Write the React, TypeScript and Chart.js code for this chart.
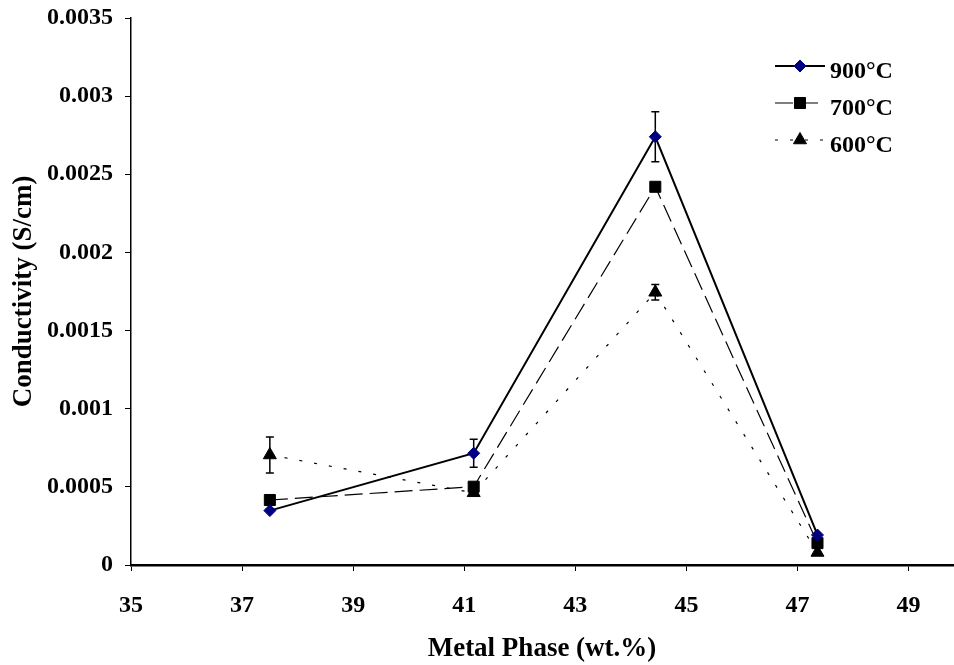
import React, { useEffect, useRef } from "react";
import { Chart, registerables, LinearScale } from "chart.js";

class FixedLinearScale extends (LinearScale as any) {
  static id = "fixedLinear";
  _calculatePadding() {
    this.paddingLeft = 0;
    this.paddingRight = 0;
    this.paddingTop = 0;
    this.paddingBottom = 0;
  }
}

Chart.register(...registerables, FixedLinearScale as any);

// ---- data ----
const metalPhase = [37.5, 41.17, 44.44, 47.36];
const series900 = [0.000348, 0.000715, 0.00274, 0.000192];
const series700 = [0.000416, 0.000501, 0.00242, 0.00014];
const series600 = [0.000704, 0.000462, 0.001745, 0.00008];
const err900 = [0, 0.00009, 0.00016, 0];
const err700 = [0, 0, 0, 0];
const err600 = [0.000115, 0, 0.00005, 0];
const seriesLabels = ["900°C", "700°C", "600°C"];
const xTickValues = [35, 37, 39, 41, 43, 45, 47, 49];
const yTickValues = [0, 0.0005, 0.001, 0.0015, 0.002, 0.0025, 0.003, 0.0035];
const yTickLabels = ["0", "0.0005", "0.001", "0.0015", "0.002", "0.0025", "0.003", "0.0035"];

const FONT = "'Liberation Serif', 'Times New Roman', serif";

const errorBarPlugin = {
  id: "errorBars",
  beforeDatasetsDraw(chart: any) {
    const { ctx, scales } = chart;
    const xs = scales.x;
    const ys = scales.y;
    ctx.save();
    ctx.strokeStyle = "#000";
    ctx.lineWidth = 1.5;
    chart.data.datasets.forEach((ds: any) => {
      const errs: number[] = ds.errors || [];
      ds.data.forEach((p: any, i: number) => {
        const e = errs[i];
        if (!e) return;
        const px = xs.getPixelForValue(p.x);
        const top = ys.getPixelForValue(p.y + e);
        const bot = ys.getPixelForValue(p.y - e);
        ctx.beginPath();
        ctx.moveTo(px, top);
        ctx.lineTo(px, bot);
        ctx.moveTo(px - 4, top);
        ctx.lineTo(px + 4, top);
        ctx.moveTo(px - 4, bot);
        ctx.lineTo(px + 4, bot);
        ctx.stroke();
      });
    });
    ctx.restore();
  },
};

function drawMarker(ctx: CanvasRenderingContext2D, style: string, r: number, x: number, y: number) {
  ctx.beginPath();
  if (style === "rectRot") {
    ctx.moveTo(x, y - r);
    ctx.lineTo(x + r, y);
    ctx.lineTo(x, y + r);
    ctx.lineTo(x - r, y);
  } else if (style === "rect") {
    const s = Math.SQRT1_2 * r;
    ctx.rect(x - s, y - s, 2 * s, 2 * s);
  } else {
    const w = (r * Math.sqrt(3)) / 2;
    ctx.moveTo(x, y - r);
    ctx.lineTo(x + w, y + r / 2);
    ctx.lineTo(x - w, y + r / 2);
  }
  ctx.closePath();
  ctx.fill();
  ctx.stroke();
}

const legendPlugin = {
  id: "customLegend",
  afterDraw(chart: any) {
    const { ctx, chartArea } = chart;
    const x0 = chartArea.right - 178;
    const x1 = x0 + 50;
    const rows = [66, 103, 140];
    ctx.save();
    chart.data.datasets.forEach((ds: any, i: number) => {
      const y = rows[i];
      ctx.beginPath();
      ctx.setLineDash(ds.borderDash || []);
      ctx.strokeStyle = ds.borderColor;
      ctx.lineWidth = ds.borderWidth;
      ctx.moveTo(x0, y);
      ctx.lineTo(x1, y);
      ctx.stroke();
      ctx.setLineDash([]);
      ctx.fillStyle = ds.pointBackgroundColor;
      ctx.strokeStyle = ds.pointBorderColor;
      ctx.lineWidth = 1;
      drawMarker(ctx, ds.pointStyle, ds.pointRadius, (x0 + x1) / 2, y);
      ctx.fillStyle = "#000";
      ctx.font = `bold 24px ${FONT}`;
      ctx.textBaseline = "middle";
      ctx.textAlign = "left";
      ctx.fillText(ds.label, x1 + 5, y + 6);
    });
    ctx.restore();
  },
};

function toPoints(vals: number[]) {
  return metalPhase.map((x, i) => ({ x, y: vals[i] }));
}

export default function App() {
  const ref = useRef<HTMLCanvasElement | null>(null);
  useEffect(() => {
    document.body.style.margin = "0";
    const canvas = ref.current!;
    const chart = new Chart(canvas, {
      type: "scatter",
      data: {
        datasets: [
          {
            label: seriesLabels[0],
            data: toPoints(series900),
            errors: err900,
            showLine: true,
            borderColor: "#000",
            borderWidth: 2,
            pointStyle: "rectRot",
            pointRadius: 6,
            pointBackgroundColor: "#000080",
            pointBorderColor: "#000080",
            pointBorderWidth: 1,
          } as any,
          {
            label: seriesLabels[1],
            data: toPoints(series700),
            errors: err700,
            showLine: true,
            borderColor: "#000",
            borderWidth: 1.2,
            borderDash: [18, 7],
            pointStyle: "rect",
            pointRadius: 7.8,
            pointBackgroundColor: "#000",
            pointBorderColor: "#000",
            pointBorderWidth: 1,
          } as any,
          {
            label: seriesLabels[2],
            data: toPoints(series600),
            errors: err600,
            showLine: true,
            borderColor: "#000",
            borderWidth: 1.2,
            borderDash: [3, 12],
            pointStyle: "triangle",
            pointRadius: 7.5,
            pointBackgroundColor: "#000",
            pointBorderColor: "#000",
            pointBorderWidth: 1,
          } as any,
        ],
      },
      options: {
        animation: false,
        responsive: false,
        maintainAspectRatio: false,
        layout: { autoPadding: false, padding: { top: 18, right: 1, left: 0, bottom: 0 } },
        plugins: {
          legend: { display: false },
          tooltip: { enabled: false },
        },
        elements: { line: { tension: 0 } },
        scales: {
          x: {
            type: "fixedLinear",
            position: "bottom",
            min: 35,
            max: 49.8,
            afterBuildTicks(scale: any) {
              scale.ticks = xTickValues.map((v) => ({ value: v }));
            },
            afterFit(scale: any) {
              scale.height = 100;
            },
            grid: { drawOnChartArea: false, drawTicks: true, tickLength: 6, color: "#000", lineWidth: 1 },
            border: { color: "#000", width: 2.5 },
            ticks: {
              color: "#000",
              font: { family: FONT, size: 24, weight: "bold" },
              padding: 20,
              maxRotation: 0,
              autoSkip: false,
              callback: (v: any) => String(v),
            },
            title: {
              display: true,
              text: "Metal Phase (wt.%)",
              color: "#000",
              font: { family: FONT, size: 27, weight: "bold" },
              padding: { top: 0, bottom: 0 },
            },
          },
          y: {
            type: "fixedLinear",
            position: "left",
            min: 0,
            max: 0.0035,
            afterBuildTicks(scale: any) {
              scale.ticks = yTickValues.map((v) => ({ value: v }));
            },
            afterFit(scale: any) {
              scale.width = 131;
            },
            grid: { drawOnChartArea: false, drawTicks: true, tickLength: 6, color: "#000", lineWidth: 1 },
            border: { color: "#000", width: 1.5 },
            ticks: {
              color: "#000",
              font: { family: FONT, size: 24, weight: "bold" },
              padding: 12,
              autoSkip: false,
              callback: (_v: any, i: number) => yTickLabels[i],
            },
            title: {
              display: true,
              text: "Conductivity (S/cm)",
              color: "#000",
              font: { family: FONT, size: 27, weight: "bold" },
              padding: { top: 8, bottom: 0 },
            },
          },
        },
      } as any,
      plugins: [errorBarPlugin, legendPlugin],
    });
    return () => chart.destroy();
  }, []);
  return (
    <div style={{ position: "absolute", left: 0, top: 0, width: 954, height: 665 }}>
      <canvas ref={ref} width={954} height={665} style={{ display: "block", width: 954, height: 665 }} />
    </div>
  );
}
